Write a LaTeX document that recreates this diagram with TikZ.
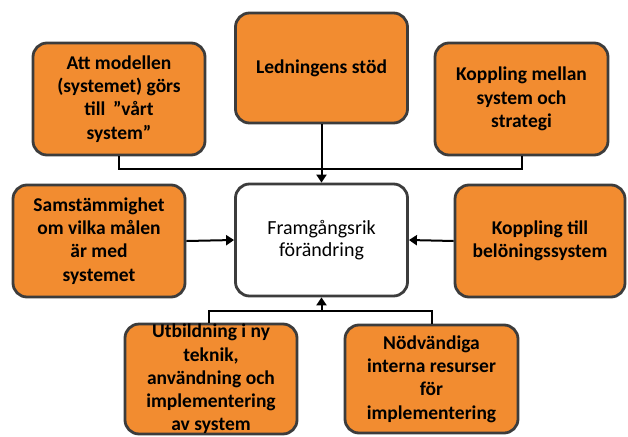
\documentclass[tikz,border=0pt]{standalone}
\usepackage{fontspec}
\setmainfont{Carlito}
\usetikzlibrary{arrows.meta}
\definecolor{boxorange}{HTML}{F28C30}
\definecolor{boxedge}{HTML}{3C3C3C}
\begin{document}
\begin{tikzpicture}[x=1pt,y=-1pt,
  factor/.style={draw=boxedge, line width=2.8pt, fill=boxorange, rounded corners=14pt,
    minimum width=172pt, minimum height=112pt, align=center, inner sep=0pt,
    font=\fontsize{19.5}{23.3}\selectfont\bfseries},
  goal/.style={factor, fill=white, font=\fontsize{20}{22.5}\selectfont},
  link/.style={line width=2pt, black},
  arrowlink/.style={link, -{Triangle[length=8pt,width=10pt]}}]
\useasboundingbox (0,0) rectangle (628,436);

% central outcome
\node[goal] (goal) at (321.5,240) {Framgångsrik\\förändring};

% contributing factors
\node[factor] (model) at (119,99) {Att modellen\\(systemet) görs\\till \,''vårt\\system''};
\node[factor, minimum height=110pt] (lead) at (321.5,68) {Ledningens stöd};
\node[factor, minimum width=173pt] (strat) at (521.5,99) {Koppling mellan\\system och\\strategi};
\node[factor] (agree) at (99,241) {Samstämmighet\\om vilka målen\\är med\\systemet};
\node[factor, minimum width=170pt] (reward) at (540,241) {Koppling till\\belöningssystem};
\node[factor, minimum height=108pt] (train) at (211,379) {Utbildning i ny\\teknik,\\användning och\\implementering\\av system};
\node[factor, minimum width=173pt, minimum height=108pt] (res) at (431.5,379) {Nödvändiga\\interna resurser\\för\\implementering};

% junction points of the collecting lines
\coordinate (topbus) at (321.5,169);
\coordinate (botbus) at (321.5,311);

% upper group
\draw[link] (model.south) |- (topbus);
\draw[link] (strat.south) |- (topbus);
\draw[arrowlink] (lead.south) -- (goal.north);

% side factors
\draw[arrowlink] (agree.east) -- (goal.west);
\draw[arrowlink] (reward.west) -- (goal.east);

% lower group
\draw[link] ([xshift=-2pt]train.north) |- (botbus);
\draw[link] (res.north) |- (botbus);
\draw[arrowlink] (botbus) -- (goal.south);
\end{tikzpicture}
\end{document}
